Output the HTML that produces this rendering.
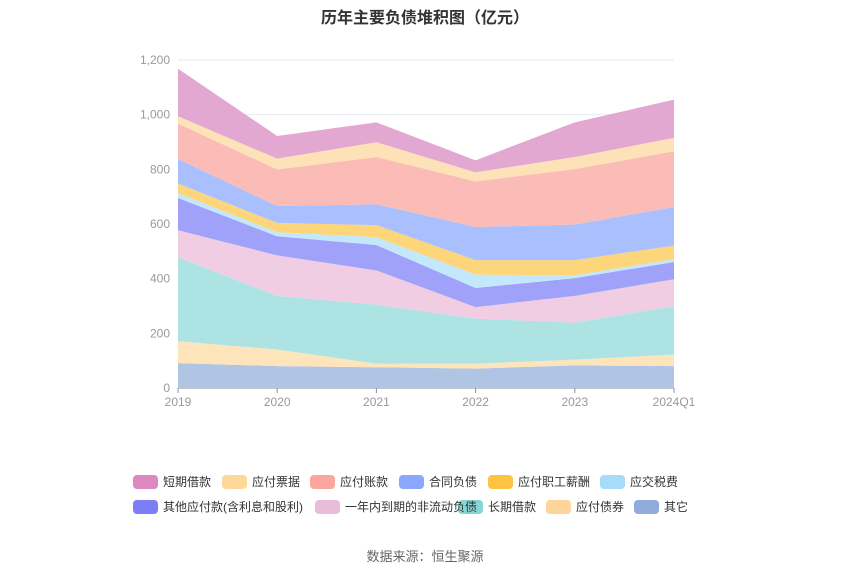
<!DOCTYPE html>
<html><head><meta charset="utf-8"><style>
body{margin:0;width:850px;height:575px;background:#fff;font-family:"Liberation Sans","Noto Sans CJK SC",sans-serif;position:relative;overflow:hidden}
.t{position:absolute;left:0;width:850px;text-align:center;top:4px;font-size:16px;font-weight:bold;color:#333}
.src{position:absolute;left:0;width:850px;text-align:center;top:546px;font-size:13px;color:#666}
.li{position:absolute;font-size:12px;color:#333;height:14px;line-height:14px;white-space:nowrap}
.li i{display:inline-block;width:25px;height:14px;border-radius:4px;vertical-align:top;margin-right:5px}
</style></head><body>
<div class="t">历年主要负债堆积图（亿元）</div>
<svg id="c" width="850" height="575" style="position:absolute;left:0;top:0"></svg>
<div id="leg"></div>
<div class="src">数据来源：恒生聚源</div>
<script>
const categories=["2019","2020","2021","2022","2023","2024Q1"];
const yTicks=[0,200,400,600,800,1000,1200];
const seriesNames=["其它","应付债券","长期借款","一年内到期的非流动负债","其他应付款(含利息和股利)","应交税费","应付职工薪酬","合同负债","应付账款","应付票据","短期借款"];
const sOther=[91,80,76,71,83,80];
const sBonds=[80,61,13,18,21,42];
const sLong=[308,196,216,165,135,178];
const sCurrent=[98,148,125,42,98,98];
const sOtherPay=[118,70,93,70,65,63];
const sTax=[18,15,29,49,10,11];
const sSalary=[35,34,44,53,56,49];
const sContract=[90,62,76,121,130,141];
const sAP=[129,134,173,167,203,204];
const sNotes=[27,39,54,33,44,49];
const sShort=[174,83,73,44,127,140];
const series=[sOther,sBonds,sLong,sCurrent,sOtherPay,sTax,sSalary,sContract,sAP,sNotes,sShort];
const areaColors=["#b0c4e4","#fde4bb","#aee3e3","#f0cde3","#a0a1f8","#c3e7fb","#fdd57a","#a9bffe","#fbbcb7","#fde2b8","#e3a8d1"];
const legColors=["#8facdc","#fdd59b","#87d6d6","#e9bcd9","#7c7ef6","#a4dcfa","#fec342","#8aa6fd","#fba69f","#fdd89b","#dd88c1"];
const X0=178,X1=674,Y0=388,Y1=60,YMAX=1200;
const x=i=>X0+(X1-X0)*i/(categories.length-1);
const y=v=>Y0-(Y0-Y1)*v/YMAX;
const svg=document.getElementById('c');const NS="http://www.w3.org/2000/svg";
function mk(t,a){const e=document.createElementNS(NS,t);for(const k in a)e.setAttribute(k,a[k]);svg.appendChild(e);return e;}
yTicks.forEach(v=>{
 const l=mk('line',{x1:X0,x2:X1,y1:y(v),y2:y(v),stroke:v?'#e6e9f0':'#8592a6','stroke-width':1});
 
 
 const t=mk('text',{x:170,y:y(v)+4,'text-anchor':'end','font-size':12,fill:'#999'});t.textContent=v.toLocaleString('en-US');
 
 
});
categories.forEach((c,i)=>{
 const tk=mk('line',{x1:x(i),x2:x(i),y1:Y0,y2:Y0+5,stroke:'#8592a6'});
 
 
 const t=mk('text',{x:x(i),y:406,'text-anchor':'middle','font-size':12,fill:'#999'});t.textContent=c;
 
 
});
let base=categories.map(()=>0);
series.forEach((s,k)=>{
 const top=base.map((b,i)=>b+s[i]);
 let d='M'+top.map((v,i)=>x(i)+','+y(v)).join('L');
 for(let i=categories.length-1;i>=0;i--)d+='L'+x(i)+','+y(base[i]);
 const p=mk('path',{d:d+'Z',fill:areaColors[k]});
 
 
 base=top;
});
const legPos=[[634,500],[546,500],[458,500],[315,500],[133,500],[600,475],[488,475],[399,475],[310,475],[222,475],[133,475]];
const leg=document.getElementById('leg');
seriesNames.forEach((n,k)=>{
 const d=document.createElement('div');d.className='li';
 d.style.left=legPos[k][0]+'px';d.style.top=legPos[k][1]+'px';
 d.innerHTML='<i style="background:'+legColors[k]+'"></i>'+n;
 
 
 leg.appendChild(d);
});
</script>
</body></html>
